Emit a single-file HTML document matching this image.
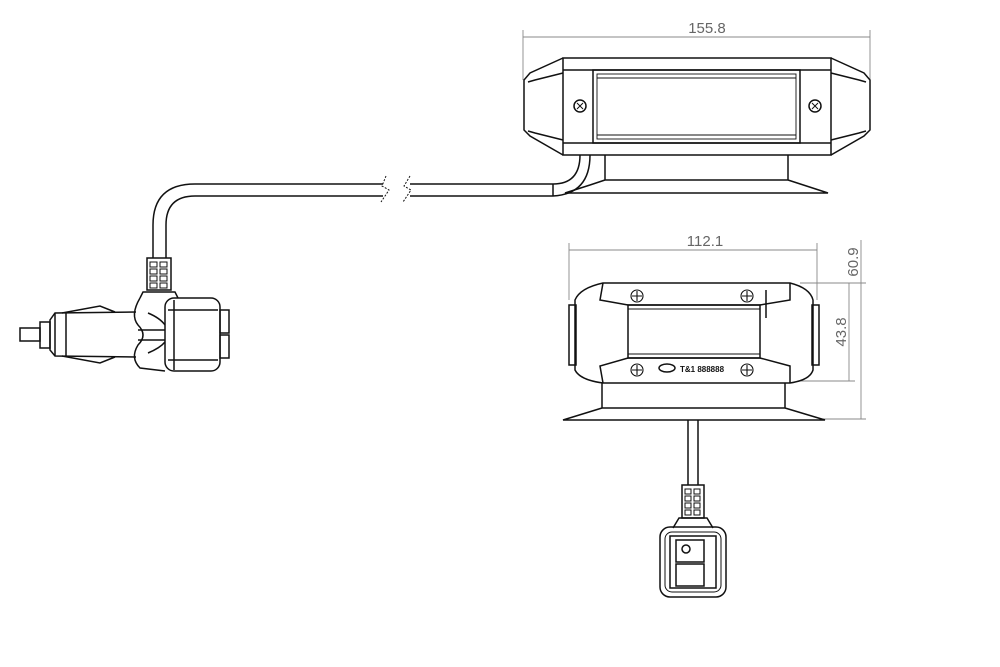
<!DOCTYPE html>
<html><head><style>html,body{margin:0;padding:0;background:#fff}svg{display:block}</style></head>
<body>
<svg width="1000" height="667" viewBox="0 0 1000 667" xmlns="http://www.w3.org/2000/svg" font-family="Liberation Sans, sans-serif">
<g fill="none" stroke="#111" stroke-width="1.5">
<!-- TOP DEVICE -->
<g stroke="#888" stroke-width="0.9"><line x1="523" y1="30" x2="523" y2="80"/><line x1="870" y1="30" x2="870" y2="80"/><line x1="523" y1="37" x2="870" y2="37"/></g>
<text x="707" y="33" font-size="15" fill="#666" stroke="none" text-anchor="middle">155.8</text>
<rect x="563" y="58" width="268" height="97"/>
<line x1="563" y1="70" x2="831" y2="70"/><line x1="563" y1="143" x2="831" y2="143"/>
<path d="M563 58 L530 73 L524 80 L524 130 L530 136 L563 155"/>
<path d="M563 73 L535 80 L528 82 M563 140 L535 133 L528 131"/>
<path d="M831 58 L864 73 L870 80 L870 130 L864 136 L831 155"/>
<path d="M831 73 L859 80 L866 82 M831 140 L859 133 L866 131"/>
<rect x="593" y="70" width="207" height="73"/>
<rect x="597" y="74" width="199" height="65" stroke-width="0.9"/>
<line x1="597" y1="78" x2="796" y2="78" stroke-width="0.9"/><line x1="597" y1="135" x2="796" y2="135" stroke-width="0.9"/>
<circle cx="580" cy="106" r="6"/><circle cx="815" cy="106" r="6"/>
<path d="M577 103 L583 109 M583 103 L577 109 M812 103 L818 109 M818 103 L812 109" stroke-width="1"/>
<path d="M605 155 L605 180 L788 180 L788 155 M788 180 L828 193 L565 193 L590 185 M605 180 L590 185"/>
<!-- cable -->
<path d="M590 155 Q590 194 553 196 L410 196 M580 155 Q580 184 553 184 L410 184 M553 184 L553 196"/>
<path d="M383 184 L195 184 Q153 184 153 225 L153 258 M383 196 L195 196 Q166 196 166 225 L166 258"/>
<path d="M386 176 L382 186 L389 190 L381 202 M410 176 L404 186 L411 190 L403 202" stroke-dasharray="2 1.5" stroke-width="1"/>
<!-- strain relief left -->
<rect x="147" y="258" width="24" height="32"/>
<g stroke-width="1"><rect x="150" y="262" width="7" height="5"/><rect x="160" y="262" width="7" height="5"/><rect x="150" y="269" width="7" height="5"/><rect x="160" y="269" width="7" height="5"/><rect x="150" y="276" width="7" height="5"/><rect x="160" y="276" width="7" height="5"/><rect x="150" y="283" width="7" height="5"/><rect x="160" y="283" width="7" height="5"/></g>
<path d="M140 298 L143 292 L175 292 L178 298"/>
<!-- plug head -->
<rect x="165" y="298" width="55" height="73" rx="9"/>
<line x1="168" y1="310" x2="218" y2="310"/><line x1="168" y1="360" x2="218" y2="360"/><line x1="174" y1="300" x2="174" y2="370"/>
<rect x="220" y="310" width="9" height="23"/><rect x="220" y="335" width="9" height="23"/>
<path d="M140 298 Q130 315 138 325 Q148 335 138 345 Q130 358 140 368 L165 371"/>
<path d="M148 313 Q160 318 165 325 M148 353 Q160 348 165 342 M138 330 L165 330 M138 340 L165 340"/>
<!-- cigarette body -->
<path d="M136 312 L55 313 L50 320 L50 350 L55 356 L136 357"/>
<path d="M62 313 L100 306 L115 312 M62 356 L100 363 L115 357"/>
<line x1="55" y1="313" x2="55" y2="356"/><line x1="66" y1="313" x2="66" y2="356"/>
<rect x="40" y="322" width="10" height="26"/><rect x="20" y="328" width="20" height="13"/>
<!-- BOTTOM DEVICE -->
<g stroke="#888" stroke-width="0.9"><line x1="569" y1="243" x2="569" y2="300"/><line x1="817" y1="243" x2="817" y2="300"/><line x1="569" y1="250" x2="817" y2="250"/>
<line x1="800" y1="283" x2="866" y2="283"/><line x1="800" y1="381" x2="855" y2="381"/><line x1="820" y1="419" x2="866" y2="419"/>
<line x1="849" y1="283" x2="849" y2="381"/><line x1="861" y1="240" x2="861" y2="419"/></g>
<text x="705" y="246" font-size="15" fill="#666" stroke="none" text-anchor="middle">112.1</text>
<text transform="translate(858,262) rotate(-90)" font-size="15" fill="#666" stroke="none" text-anchor="middle">60.9</text>
<text transform="translate(846,332) rotate(-90)" font-size="15" fill="#666" stroke="none" text-anchor="middle">43.8</text>
<path d="M603 283 L790 283 Q810 288 813 300 L813 370 Q810 380 790 383 L603 383 Q580 380 575 370 L575 300 Q580 288 603 283 Z"/>
<path d="M603 283 L600 300 L628 305 L760 305 L790 300 L790 283 M603 383 L600 366 L628 358 L760 358 L790 366 L790 383"/>
<rect x="628" y="305" width="132" height="53"/>
<line x1="628" y1="309" x2="760" y2="309" stroke-width="0.9"/><line x1="628" y1="354" x2="760" y2="354" stroke-width="0.9"/>
<rect x="569" y="305" width="7" height="60"/><rect x="812" y="305" width="7" height="60"/>
<line x1="766" y1="290" x2="766" y2="318"/>
<g stroke-width="1.1"><circle cx="637" cy="296" r="6"/><circle cx="747" cy="296" r="6"/><circle cx="637" cy="370" r="6"/><circle cx="747" cy="370" r="6"/>
<path d="M637 291 V301 M632 296 H642 M747 291 V301 M742 296 H752 M637 365 V375 M632 370 H642 M747 365 V375 M742 370 H752"/></g>
<ellipse cx="667" cy="368" rx="8" ry="4"/>
<text x="680" y="372" font-size="8" fill="#111" stroke="none" font-weight="bold">T&amp;1 888888</text>
<path d="M602 383 L602 408 L785 408 L785 383 M602 408 L563 420 L825 420 L785 408"/>
<!-- bottom cable and switch -->
<path d="M688 420 L688 485 M698 420 L698 485"/>
<rect x="682" y="485" width="22" height="33"/>
<g stroke-width="1"><rect x="685" y="489" width="6" height="5"/><rect x="694" y="489" width="6" height="5"/><rect x="685" y="496" width="6" height="5"/><rect x="694" y="496" width="6" height="5"/><rect x="685" y="503" width="6" height="5"/><rect x="694" y="503" width="6" height="5"/><rect x="685" y="510" width="6" height="5"/><rect x="694" y="510" width="6" height="5"/></g>
<path d="M673 528 L679 518 L707 518 L713 528"/>
<rect x="660" y="527" width="66" height="70" rx="10"/>
<rect x="665" y="532" width="56" height="60" rx="7" stroke-width="1"/>
<rect x="670" y="536" width="46" height="52"/>
<rect x="676" y="540" width="28" height="22"/><rect x="676" y="564" width="28" height="22"/>
<circle cx="686" cy="549" r="4"/>
</g>
</svg>
</body></html>
